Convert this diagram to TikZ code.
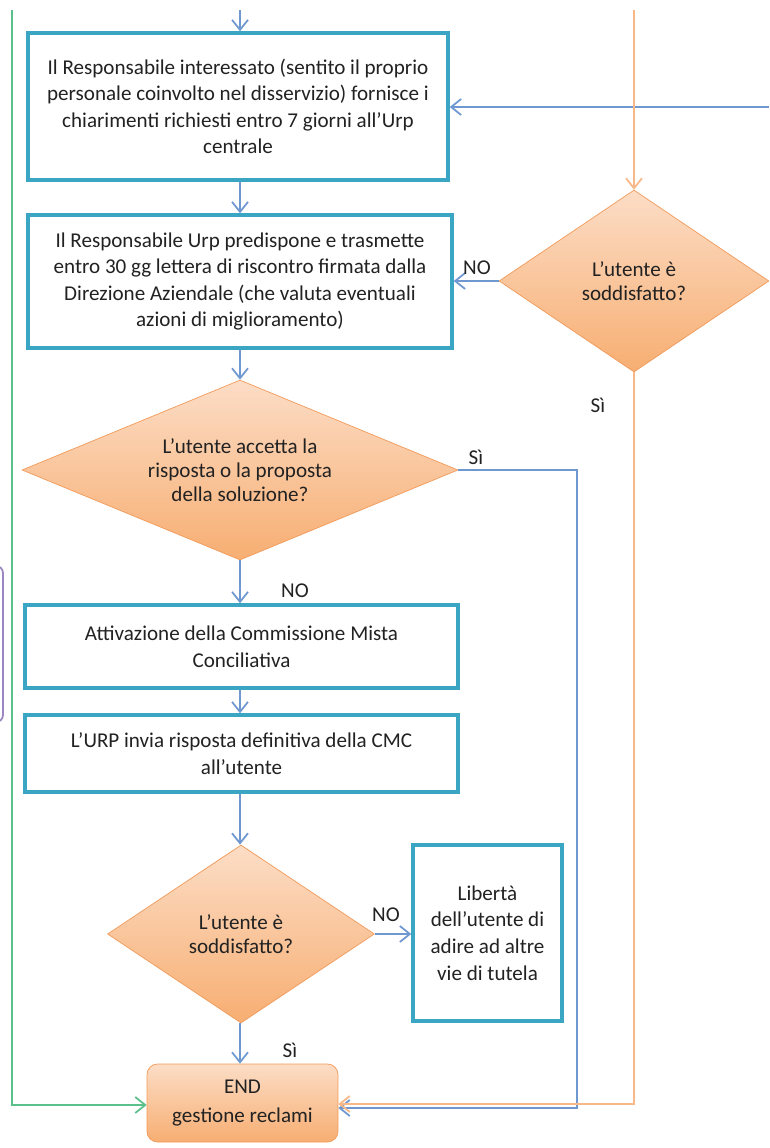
\documentclass[tikz,border=0pt]{standalone}
\usepackage{fontspec}
\setmainfont{Carlito}
\usetikzlibrary{shapes.geometric,arrows.meta}
\definecolor{teal}{HTML}{3AA6C4}
\definecolor{cblue}{HTML}{6F98D0}
\definecolor{corange}{HTML}{F8B888}
\definecolor{cgreen}{HTML}{5CC08B}
\definecolor{cpurple}{HTML}{9A86C0}
\definecolor{peachtop}{HTML}{FCDDC6}
\definecolor{peachbot}{HTML}{F7AE72}
\definecolor{dorange}{HTML}{F29A5A}
\definecolor{txt}{HTML}{222222}
\tikzset{
  procbox/.style={draw=teal, line width=2pt, fill=white, align=center, inner sep=0pt, text=txt},
  decis/.style={diamond, draw=dorange, line width=0.4pt, top color=peachtop, bottom color=peachbot, align=center, inner sep=0pt, text=txt, font=\fontsize{12}{13.6}\selectfont},
  endbox/.style={rounded corners=6pt, draw=dorange, line width=0.4pt, top color=peachtop, bottom color=peachbot, align=center, inner sep=0pt, text=txt, font=\fontsize{12}{16}\selectfont},
  conn/.style={draw=cblue, line width=1pt, -{Straight Barb[length=2mm,width=3.2mm]}},
  oconn/.style={draw=corange, line width=1pt, -{Straight Barb[length=2mm,width=3.2mm]}},
  gconn/.style={draw=cgreen, line width=1pt, -{Straight Barb[length=2mm,width=3.2mm]}},
  lbl/.style={text=txt, inner sep=0pt},
}
\begin{document}
\begin{tikzpicture}[x=0.02cm,y=-0.02cm,font=\fontsize{12}{15.1}\selectfont]
\clip (0,0) rectangle (769,1148);
\fill[white] (0,0) rectangle (769,1148);
% purple partial frame at left edge
\draw[cpurple, line width=1pt, rounded corners=4pt] (-60,566) rectangle (3,722);

% process boxes
\node[procbox, minimum width=8.4cm, minimum height=2.94cm] (b1) at (238,106.5)
  {Il Responsabile interessato (sentito il proprio\\personale coinvolto nel disservizio) fornisce i\\chiarimenti richiesti entro 7 giorni all'Urp\\centrale};
\node[procbox, minimum width=8.48cm, minimum height=2.66cm] (b2) at (240,281.5)
  {Il Responsabile Urp predispone e trasmette\\entro 30 gg lettera di riscontro firmata dalla\\Direzione Aziendale (che valuta eventuali\\azioni di miglioramento)};
\node[decis, minimum width=8.72cm, minimum height=3.6cm, aspect=2.4] (d1) at (240,470)
  {L'utente accetta la\\risposta o la proposta\\della soluzione?};
\node[procbox, minimum width=8.66cm, minimum height=1.66cm] (b3) at (241.5,646.5)
  {Attivazione della Commissione Mista\\Conciliativa};
\node[procbox, minimum width=8.66cm, minimum height=1.54cm] (b4) at (241.5,753.5)
  {L'URP invia risposta definitiva della CMC\\all'utente};
\node[decis, minimum width=5.34cm, minimum height=3.56cm, aspect=1.5] (d2) at (241,934)
  {L'utente è\\soddisfatto?};
\node[procbox, minimum width=2.98cm, minimum height=3.52cm] (b5) at (487.5,933)
  {Libertà\\dell'utente di\\adire ad altre\\vie di tutela};
\node[endbox, minimum width=3.82cm, minimum height=1.56cm] (end) at (242.5,1103)
  {END\\gestione reclami};
\node[decis, minimum width=5.4cm, minimum height=3.64cm, aspect=1.5] (d3) at (634,281)
  {L'utente è\\soddisfatto?};

% coordinates
\coordinate (topin) at (240,10);
\coordinate (otop) at (634,10);
\coordinate (gtop) at (12,10);
\coordinate (gbot) at (12,1105);
\coordinate (bright) at (769,107);
\coordinate (sib1) at (577,470);
\coordinate (sib2) at (577,1108);
\coordinate (sio2) at (634,1104);

% blue connectors
\draw[conn] (topin) -- (topin |- b1.north);
\draw[conn] (b1.south -| 240,0) -- (240,0 |- b2.north);
\draw[conn] (b2.south) -- (d1.north);
\draw[conn] (d1.south) -- (d1.south |- b3.north);
\draw[conn] (240,0 |- b3.south) -- (240,0 |- b4.north);
\draw[conn] (240,0 |- b4.south) -- (240,0 |- d2.north);
\draw[conn] (d2.east) -- (d2.east -| b5.west);
\draw[conn] (240,0 |- d2.south) -- (240,0 |- end.north);
\draw[conn] (bright) -- (bright -| b1.east);
\draw[conn] (d1.east) -- (sib1) -- (sib2) -- (sib2 -| end.east);

% orange connectors
\draw[oconn] (otop) -- (d3.north);
\draw[conn] (d3.west) -- (d3.west -| b2.east);
\draw[oconn] (d3.south) -- (sio2) -- (sio2 -| end.east);

% green connector
\draw[gconn] (gtop) -- (gbot) -- (gbot -| end.west);

% labels
\node[lbl] (lno1) at (295,591) {NO};
\node[lbl] (lsi1) at (476,457) {Sì};
\node[lbl] (lno2) at (386,915) {NO};
\node[lbl] (lsi2) at (290,1050) {Sì};
\node[lbl] (lno3) at (477,268) {NO};
\node[lbl] (lsi3) at (598,405) {Sì};
\end{tikzpicture}
\end{document}
